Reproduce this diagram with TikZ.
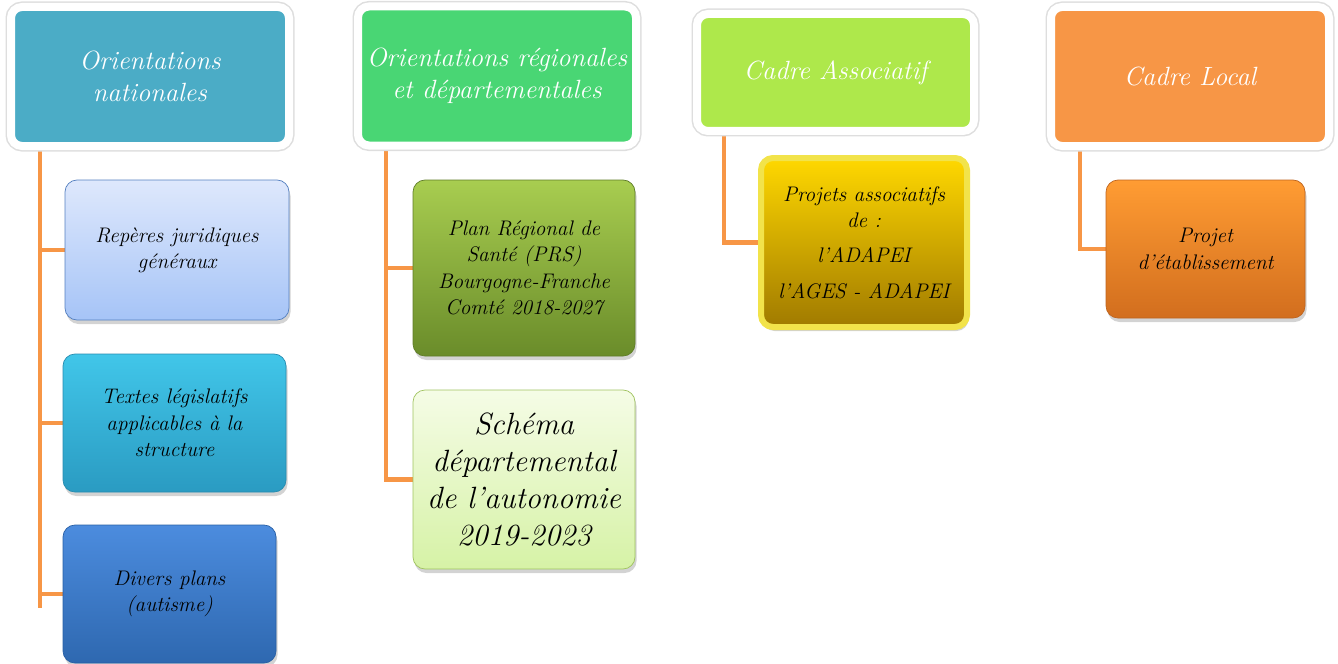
\documentclass[tikz,border=0pt]{standalone}
\usepackage{fontspec}
\usetikzlibrary{shadows,backgrounds}

\definecolor{natcol}{HTML}{4BACC6}
\definecolor{regcol}{HTML}{49D674}
\definecolor{assocol}{HTML}{AEE84B}
\definecolor{loccol}{HTML}{F79646}
\definecolor{linkcol}{HTML}{F79646}

\begin{document}
\begin{tikzpicture}
% Define styles
\tikzset{
    head/.style={rectangle, rounded corners=0.22cm, draw=white, line width=0.16cm,
        preaction={draw=black!13, line width=0.22cm},
        text=white, align=center, font=\fontsize{15}{18}\selectfont\itshape,
        minimum width=5.56cm, minimum height=2.78cm,
        drop shadow={opacity=0.2, shadow xshift=0.03cm, shadow yshift=-0.07cm}},
    item/.style={rectangle, rounded corners=0.24cm, align=center, inner sep=2pt,
        font=\fontsize{12}{15}\selectfont\itshape, text=black,
        drop shadow={opacity=0.35, shadow xshift=0.03cm, shadow yshift=-0.08cm}},
    link/.style={draw=linkcol, line width=0.085cm}
}

\useasboundingbox (0,0) rectangle (26.76,-13.28);

% Top level frames
\node[head, fill=natcol] (nat) at (3.00,-1.53) {Orientations\\nationales};
\node[head, fill=regcol] (reg) at (9.94,-1.52) {Orientations régionales\\et départementales};
\node[head, fill=assocol, minimum width=5.54cm, minimum height=2.34cm] (asso) at (16.71,-1.45) {Cadre Associatif};
\node[head, fill=loccol] (loc) at (23.80,-1.53) {Cadre Local};

% National column
\node[item, minimum width=4.48cm, minimum height=2.80cm, draw={rgb,255:red,85;green,128;blue,192},
    top color={rgb,255:red,222;green,232;blue,252}, bottom color={rgb,255:red,166;green,196;blue,247}]
    (jur) at (3.54,-5.00) {Repères juridiques\\généraux};
\node[item, minimum width=4.46cm, minimum height=2.76cm, draw={rgb,255:red,40;green,140;blue,175},
    top color={rgb,255:red,65;green,198;blue,233}, bottom color={rgb,255:red,42;green,155;blue,194}]
    (leg) at (3.49,-8.46) {Textes législatifs\\applicables à la\\structure};
\node[item, minimum width=4.26cm, minimum height=2.76cm, draw={rgb,255:red,40;green,95;blue,165},
    top color={rgb,255:red,76;green,140;blue,222}, bottom color={rgb,255:red,46;green,104;blue,176}]
    (div) at (3.39,-11.88) {Divers plans\\(autisme)};

% Regional column
\node[item, minimum width=4.44cm, minimum height=3.52cm, draw={rgb,255:red,95;green,125;blue,40},
    top color={rgb,255:red,168;green,205;blue,80}, bottom color={rgb,255:red,106;green,140;blue,42}]
    (prs) at (10.48,-5.36) {Plan Régional de\\Santé (PRS)\\Bourgogne-Franche\\Comté 2018-2027};
\node[item, minimum width=4.44cm, minimum height=3.58cm, draw={rgb,255:red,160;green,195;blue,95},
    top color={rgb,255:red,245;green,252;blue,230}, bottom color={rgb,255:red,214;green,242;blue,166},
    font=\fontsize{17.5}{21}\selectfont\itshape]
    (sda) at (10.48,-9.59) {Schéma\\départemental\\de l'autonomie\\2019-2023};

% Associative column
\node[item, minimum width=4.12cm, minimum height=3.38cm, draw={rgb,255:red,242;green,227;blue,74}, line width=0.12cm,
    top color={rgb,255:red,255;green,216;blue,0}, bottom color={rgb,255:red,160;green,122;blue,0}]
    (pas) at (17.28,-4.85) {Projets associatifs\\de :\\[5pt]l'ADAPEI\\[5pt]l'AGES - ADAPEI};

% Local column
\node[item, minimum width=3.98cm, minimum height=2.76cm, draw={rgb,255:red,190;green,100;blue,30},
    top color={rgb,255:red,255;green,156;blue,51}, bottom color={rgb,255:red,210;green,110;blue,30}]
    (pet) at (24.11,-4.98) {Projet\\d'établissement};

% Connectors
\begin{scope}[on background layer]
\coordinate (natend) at ([xshift=0.66cm]nat.south west |- 0,-12.16);
\draw[link] ([xshift=0.66cm]nat.south west) -- (natend);
\draw[link] ([xshift=0.66cm]nat.south west) |- (jur.west);
\draw[link] ([xshift=0.66cm]nat.south west) |- (leg.west);
\draw[link] ([xshift=0.66cm]nat.south west) |- (div.west);
\draw[link] ([xshift=0.64cm]reg.south west) |- (prs.west);
\draw[link] ([xshift=0.64cm]reg.south west) |- (sda.west);
\draw[link] ([xshift=0.62cm]asso.south west) |- (pas.west);
\draw[link] ([xshift=0.66cm]loc.south west) |- (pet.west);
\end{scope}

\end{tikzpicture}
\end{document}
